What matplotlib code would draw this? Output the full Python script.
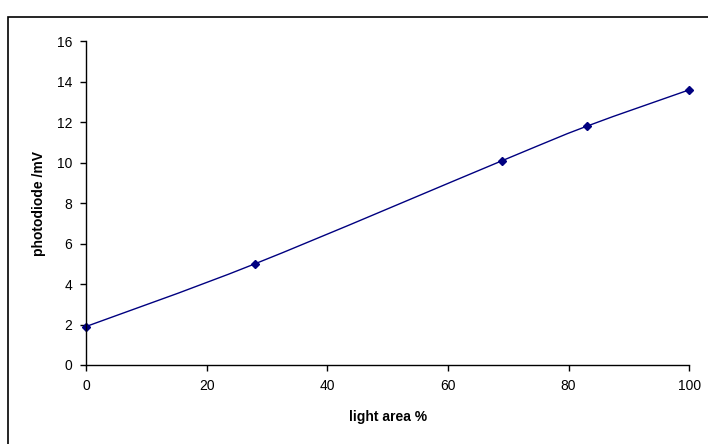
import matplotlib
matplotlib.use("Agg")
import matplotlib.pyplot as plt
from matplotlib.patches import Rectangle, PathPatch
from matplotlib.path import Path

plt.rcParams['font.family'] = ['Liberation Sans', 'DejaVu Sans']

# light area (%) vs photodiode signal (mV)
light_area = [0, 28, 69, 83, 100]
photodiode = [1.9, 5.0, 10.1, 11.8, 13.6]

x_ticks = [0, 20, 40, 60, 80, 100]
y_ticks = [0, 2, 4, 6, 8, 10, 12, 14, 16]

fig = plt.figure(figsize=(7.08, 4.44), dpi=100)
ax = fig.add_axes([0.1215, 0.178, 0.852, 0.729])

# smoothed connecting line (Excel-style Catmull-Rom bezier through the points)
pts = list(zip(light_area, photodiode))
verts = [pts[0]]
codes = [Path.MOVETO]
for i in range(len(pts) - 1):
    p0 = pts[i - 1] if i > 0 else pts[i]
    p1 = pts[i]
    p2 = pts[i + 1]
    p3 = pts[i + 2] if i + 2 < len(pts) else pts[i + 1]
    c1 = (p1[0] + (p2[0] - p0[0]) / 6, p1[1] + (p2[1] - p0[1]) / 6)
    c2 = (p2[0] - (p3[0] - p1[0]) / 6, p2[1] - (p3[1] - p1[1]) / 6)
    verts += [c1, c2, p2]
    codes += [Path.CURVE4] * 3
ax.add_patch(PathPatch(Path(verts, codes), fill=False, edgecolor='#000080',
                       linewidth=1.0, clip_on=False))

ax.plot(light_area, photodiode, linestyle='none',
        marker='D', markersize=4.5, markerfacecolor='#000080',
        markeredgecolor='#000080', clip_on=False)

ax.set_xlim(0, 100)
ax.set_ylim(0, 16)
ax.set_xticks(x_ticks)
ax.set_yticks(y_ticks)
ax.tick_params(direction='out', length=4, width=1, labelsize=10, pad=6)

for side in ['top', 'right']:
    ax.spines[side].set_visible(False)
for side in ['left', 'bottom']:
    ax.spines[side].set_linewidth(1)

ax.set_xlabel('light area %', fontsize=10, fontweight='bold', labelpad=12)
ax.set_ylabel('photodiode /mV', fontsize=10, fontweight='bold', labelpad=8)

# chart border (cut off on right and bottom in the original)
fig.patches.append(Rectangle((8 / 708, -0.2), 1.2, 0.2 + 1 - 17 / 444,
                             transform=fig.transFigure, fill=False,
                             edgecolor='black', linewidth=1.2))

fig.savefig('out.png', dpi=100)
